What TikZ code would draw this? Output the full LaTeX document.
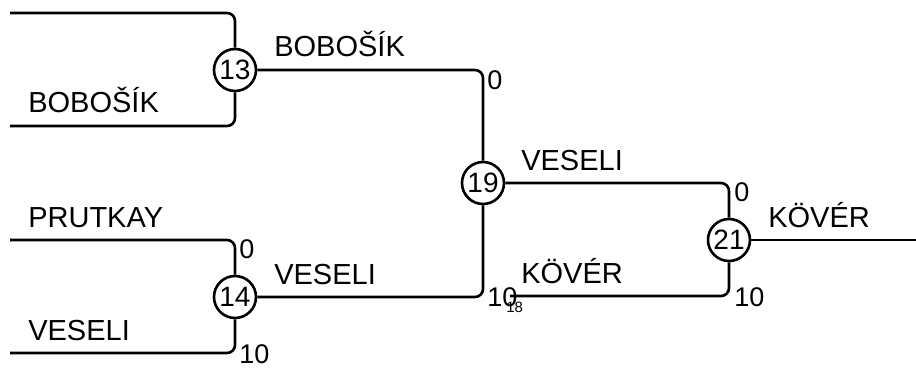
\documentclass[tikz,border=0pt]{standalone}
\usepackage{fontspec}
\setmainfont{Liberation Sans}
\begin{document}
\begin{tikzpicture}[x=1pt,y=-1pt,
  line width=2.6pt,
  seat/.style={circle,draw,fill=white,minimum size=42pt,inner sep=0pt,font=\fontsize{28}{28}\selectfont},
  lbl/.style={anchor=base west,inner sep=0pt,font=\fontsize{29}{29}\selectfont},
  score/.style={anchor=base west,inner sep=0pt,font=\fontsize{27}{27}\selectfont},
  tiny/.style={anchor=base west,inner sep=0pt,font=\fontsize{15}{15}\selectfont},
  wire/.style={draw,rounded corners=8pt}]
\useasboundingbox (0,0) rectangle (916,369);
\node[seat] (c13) at (235,70) {13};
\node[seat] (c19) at (483,183) {19};
\node[seat] (c14) at (235,297) {14};
\node[seat] (c21) at (729,240) {21};
\coordinate (a1) at (10,13);
\coordinate (a2) at (10,126);
\coordinate (b1) at (10,240);
\coordinate (b2) at (10,353);
\coordinate (s18) at (510,296);
\coordinate (out) at (916,240);
\path[wire] (a1) -| (c13);
\path[wire] (a2) -| (c13);
\path[wire] (b1) -| (c14);
\path[wire] (b2) -| (c14);
\path[wire] (c13) -| (c19);
\path[wire] (c14) -| (c19);
\path[wire] (c19) -| (c21);
\path[wire] (s18) -| (c21);
\draw (c21) -- (out);
\node[lbl] (t1) at (27,113) {BOBOŠÍK};
\node[lbl] (t2) at (273,57) {BOBOŠÍK};
\node[lbl] (t3) at (27,227) {PRUTKAY};
\node[lbl] (t4) at (27,340) {VESELI};
\node[lbl] (t5) at (273,284) {VESELI};
\node[lbl] (t6) at (520,170) {VESELI};
\node[lbl] (t7) at (520,283) {KÖVÉR};
\node[lbl] (t8) at (767,227) {KÖVÉR};
\node[score] (n1) at (486,89) {0};
\node[score] (n2) at (238,258) {0};
\node[score] (n3) at (238,363) {10};
\node[score] (n4) at (486,306) {10};
\node[score] (n5) at (733,201) {0};
\node[score] (n6) at (733,306) {10};
\node[tiny] (n7) at (505,312) {18};
\end{tikzpicture}
\end{document}
